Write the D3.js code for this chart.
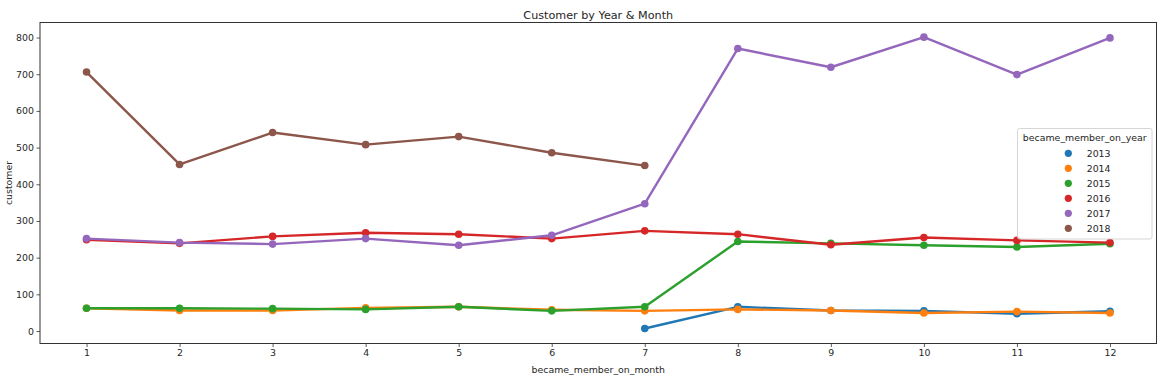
<!DOCTYPE html>
<html>
<head>
<meta charset="utf-8">
<script src="https://cdn.jsdelivr.net/npm/d3@7"></script>
<style>
  html, body { margin: 0; padding: 0; background: #fff; }
  svg { display: block; font-family: "DejaVu Sans", sans-serif; }
</style>
</head>
<body>
<svg id="chart" width="1164" height="382"></svg>
<script>
const months = [1, 2, 3, 4, 5, 6, 7, 8, 9, 10, 11, 12];
const years = ["2013", "2014", "2015", "2016", "2017", "2018"];
const colors = ["#1f77b4", "#ff7f0e", "#2ca02c", "#d62728", "#9467bd", "#8c564b"];
const yTicks = [0, 100, 200, 300, 400, 500, 600, 700, 800];

// null = no data for that month
const v2013 = [null, null, null, null, null, null, 7, 66, 56, 55, 47, 54];
const v2014 = [62, 56, 56, 63, 66, 58, 55, 59, 56, 49, 53, 49];
const v2015 = [62, 62, 61, 59, 66, 55, 66, 244, 239, 234, 229, 238];
const v2016 = [249, 239, 258, 268, 264, 252, 273, 264, 235, 255, 247, 241];
const v2017 = [252, 241, 237, 252, 234, 261, 347, 770, 719, 801, 699, 799];
const v2018 = [706, 454, 541, 508, 530, 486, 451, null, null, null, null, null];
const seriesValues = [v2013, v2014, v2015, v2016, v2017, v2018];

const title = "Customer by Year & Month";
const xLabel = "became_member_on_month";
const yLabel = "customer";
const legendTitle = "became_member_on_year";

const svg = d3.select("#chart");
const m = { left: 40, right: 1156.5, top: 22.5, bottom: 343.5 };

const x = d3.scalePoint().domain(months).range([m.left, m.right]).padding(0.5);
const y = d3.scaleLinear().domain([-34, 841]).range([m.bottom, m.top]);

const fs = 9.4;

// axes
const xAxis = svg.append("g").attr("transform", `translate(0,${m.bottom})`)
  .call(d3.axisBottom(x).tickSize(3.5).tickPadding(2.5));
const yAxis = svg.append("g").attr("transform", `translate(${m.left},0)`)
  .call(d3.axisLeft(y).tickValues(yTicks).tickSize(3.5).tickPadding(2.5));
[xAxis, yAxis].forEach(g => {
  g.select(".domain").remove();
  g.selectAll("line").attr("stroke", "#333").attr("stroke-width", 0.8);
  g.selectAll("text").attr("fill", "#262626").style("font-size", fs + "px")
    .style("font-family", "DejaVu Sans, sans-serif");
});

// lines and points
const line = d3.line()
  .defined(d => d.v !== null)
  .x(d => x(d.m))
  .y(d => y(d.v));

const plot = svg.append("g");
seriesValues.forEach((vals, i) => {
  const pts = months.map((mo, j) => ({ m: mo, v: vals[j] }));
  const g = plot.append("g");
  g.append("path").datum(pts)
    .attr("d", line)
    .attr("fill", "none")
    .attr("stroke", colors[i])
    .attr("stroke-width", 2.4)
    .attr("stroke-linejoin", "round");
  g.selectAll("circle").data(pts.filter(d => d.v !== null)).enter()
    .append("circle")
    .attr("cx", d => x(d.m))
    .attr("cy", d => y(d.v))
    .attr("r", 3.8)
    .attr("fill", colors[i]);
});

// frame
svg.append("rect")
  .attr("x", m.left).attr("y", m.top)
  .attr("width", m.right - m.left).attr("height", m.bottom - m.top)
  .attr("fill", "none").attr("stroke", "#333").attr("stroke-width", 1);

// title and labels
svg.append("text").attr("x", (m.left + m.right) / 2).attr("y", 18.5)
  .attr("text-anchor", "middle").style("font-size", "11.2px").attr("fill", "#262626")
  .text(title);
svg.append("text").attr("x", (m.left + m.right) / 2).attr("y", 372.5)
  .attr("text-anchor", "middle").style("font-size", fs + "px").attr("fill", "#262626")
  .text(xLabel);
svg.append("text").attr("transform", `translate(11.5,${(m.top + m.bottom) / 2}) rotate(-90)`)
  .attr("text-anchor", "middle").style("font-size", fs + "px").attr("fill", "#262626")
  .text(yLabel);

// legend
const lg = svg.append("g");
lg.append("rect").attr("x", 1017.5).attr("y", 128.5).attr("width", 134.5).attr("height", 110.5)
  .attr("rx", 2).attr("fill", "rgba(255,255,255,0.8)").attr("stroke", "#ccc").attr("stroke-width", 0.8);
lg.append("text").attr("x", 1084.75).attr("y", 140.8).attr("text-anchor", "middle")
  .style("font-size", fs + "px").attr("fill", "#262626").text(legendTitle);
years.forEach((yr, i) => {
  const cy = 153.3 + i * 15;
  lg.append("circle").attr("cx", 1068.3).attr("cy", cy).attr("r", 3.6).attr("fill", colors[i]);
  lg.append("text").attr("x", 1086.7).attr("y", cy + 3.4)
    .style("font-size", fs + "px").attr("fill", "#262626").text(yr);
});
</script>
</body>
</html>
